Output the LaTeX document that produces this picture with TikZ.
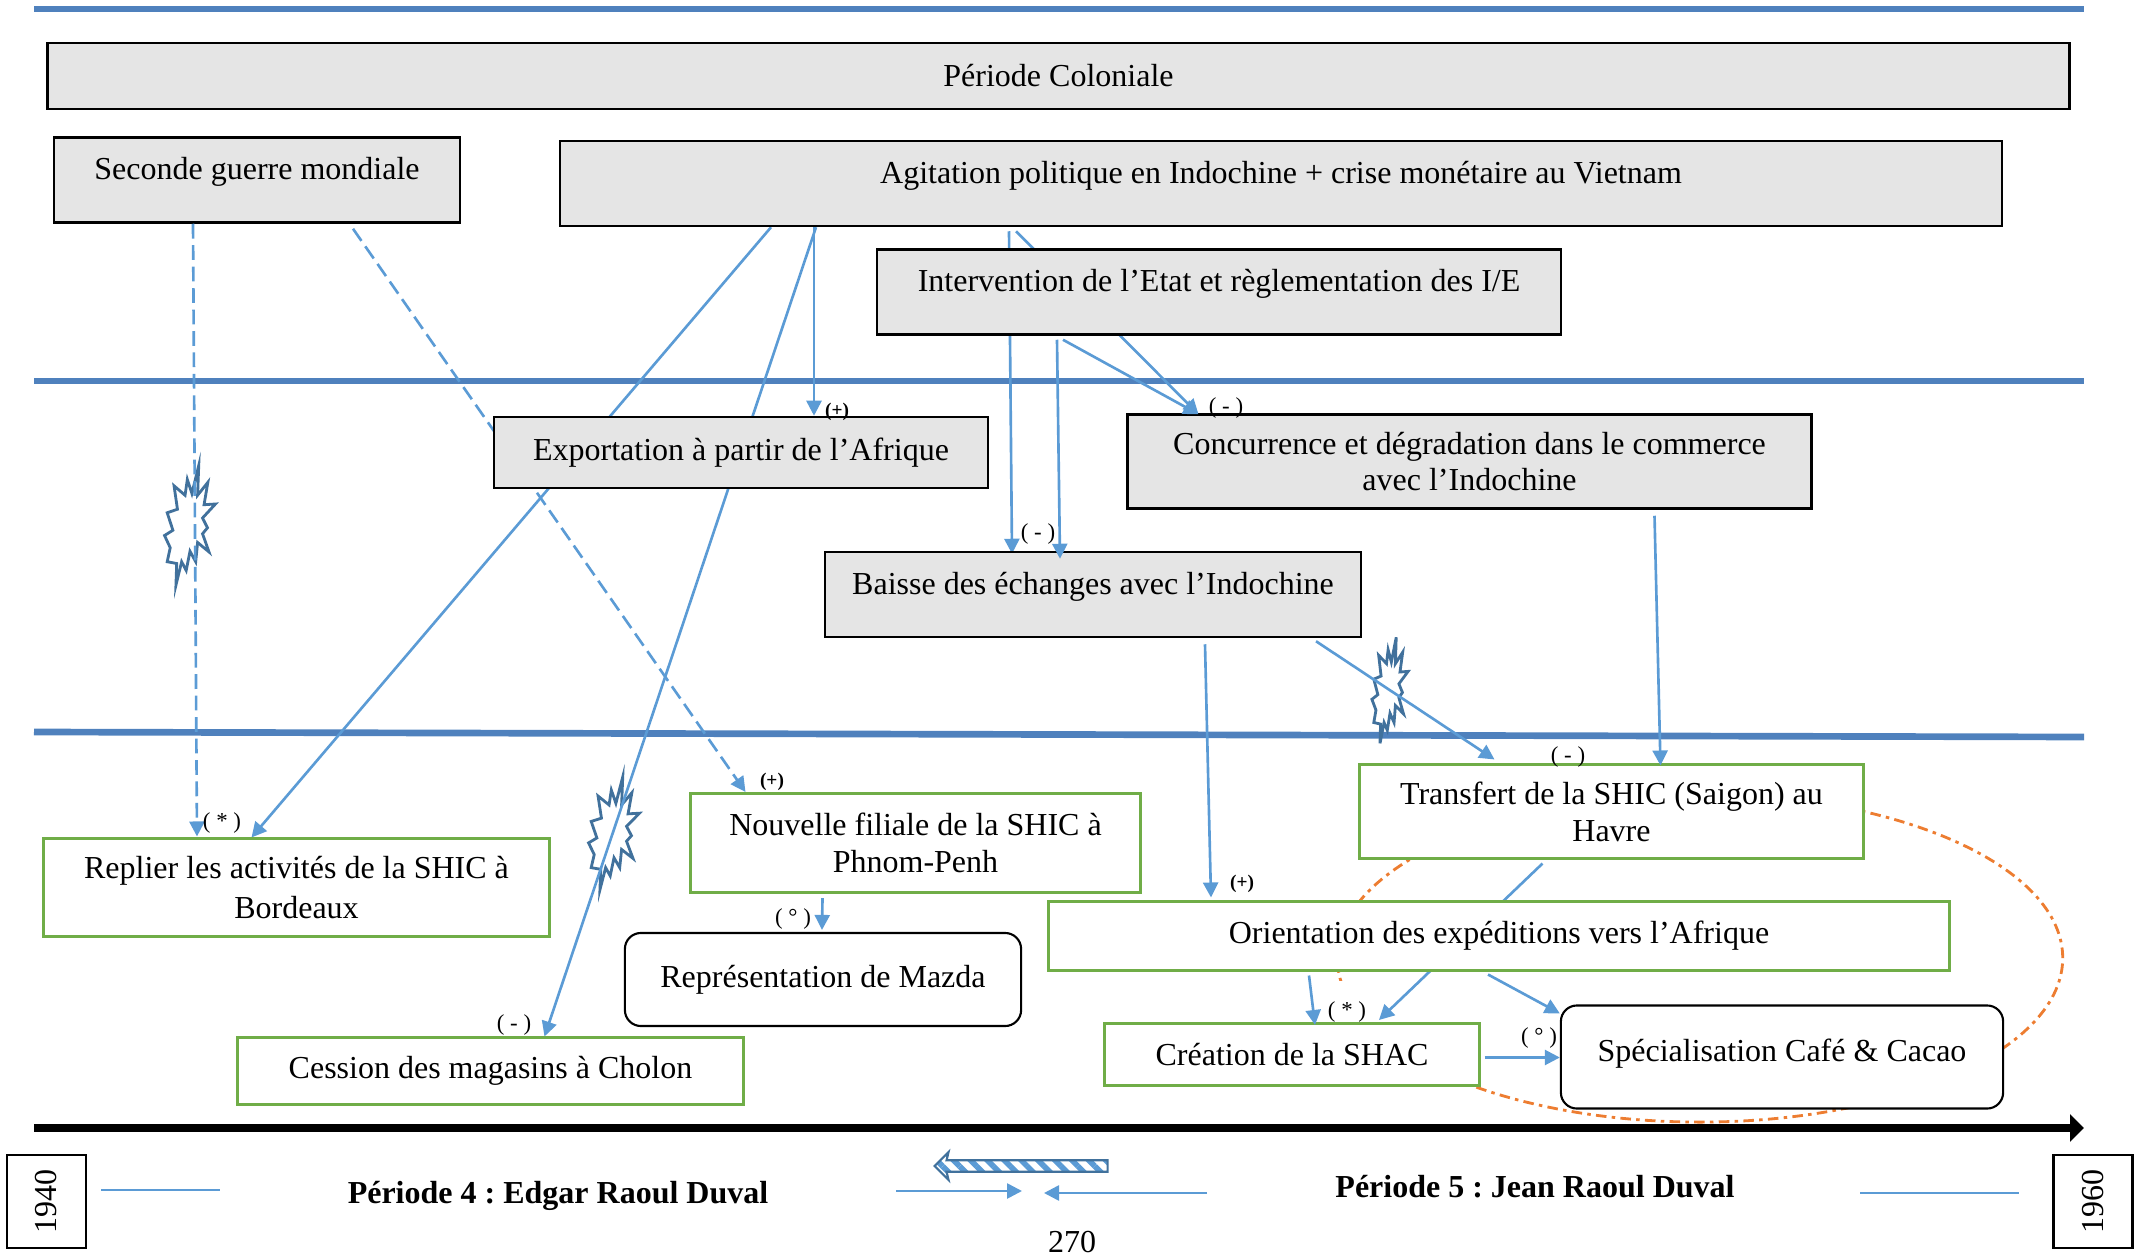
\documentclass[tikz,border=0pt]{standalone}
\usepackage{fontspec}
\setmainfont{Liberation Serif}
\frenchspacing
\usetikzlibrary{arrows.meta,calc,patterns.meta,shapes.arrows,shapes.geometric}

\definecolor{bleu}{HTML}{5B9BD5}
\definecolor{bleufort}{HTML}{4F81BD}
\definecolor{bleuclair}{HTML}{41719C}
\definecolor{vert}{HTML}{70AD47}
\definecolor{gris}{HTML}{E5E5E5}
\definecolor{orange}{HTML}{ED7D31}

\pgfdeclarelayer{fond}
\pgfsetlayers{fond,main}

\tikzset{
  boite/.style={inner sep=0pt,align=center,font=\fontsize{9.1}{10.5}\selectfont},
  grise/.style={boite,draw=black,line width=.7pt,fill=gris},
  verte/.style={boite,draw=vert,line width=.85pt,fill=white},
  ronde/.style={boite,draw=black,line width=.6pt,fill=white,rounded corners=.16cm},
  annee/.style={boite,draw=black,line width=.7pt,rotate=90,minimum width=.93cm,minimum height=.79cm},
  haut/.style={text depth=6.5pt},
  signe/.style={inner sep=0pt,font=\fontsize{6.5}{7}\selectfont},
  lien/.style={draw=bleu,line width=.75pt,-{Triangle[length=.15cm,width=.15cm]}},
  tiret/.style={lien,dash pattern=on 4.2pt off 1.9pt},
  barre/.style={draw=bleufort,line width=1.9pt},
  eclat/.pic={
    \draw[bleuclair,line width=.8pt] (23,-170) -- (20,-85) -- (47,-122) -- (37,-58) -- (67,-60) -- (33,-20)
      -- (46,8) -- (33,25) -- (50,77) -- (20,50) -- (15,105) -- (0,75) -- (-10,130) -- (-22,105)
      -- (-37,172) -- (-35,110) -- (-60,105) -- (-52,65) -- (-67,30) -- (-45,15) -- (-60,-35)
      -- (-33,-45) -- (-42,-112) -- (-13,-85) -- (-7,-130) -- (5,-90) -- cycle;
  }
}

\begin{document}
\begin{tikzpicture}[x=.01cm,y=-.01cm]
  \useasboundingbox (0,0) rectangle (2145,1255);

  \node[grise,minimum width=20.21cm,minimum height=.66cm] (coloniale) at (1058.5,76) {Période Coloniale};
  \node[grise,haut,minimum width=4.06cm,minimum height=.85cm] (guerre) at (257,180) {Seconde guerre mondiale};
  \node[grise,haut,minimum width=14.41cm,minimum height=.85cm] (agitation) at (1281,183.5) {Agitation politique en Indochine + crise monétaire au Vietnam};
  \node[grise,haut,minimum width=6.84cm,minimum height=.85cm] (etat) at (1219,292) {Intervention de l’Etat et règlementation des I/E};
  \node[grise,minimum width=4.94cm,minimum height=.71cm] (export) at (741,452.5) {Exportation à partir de l’Afrique};
  \node[grise,minimum width=6.84cm,minimum height=.94cm] (concur) at (1469.5,461.5) {Concurrence et dégradation dans le commerce\\avec l’Indochine};
  \node[grise,haut,minimum width=5.36cm,minimum height=.85cm] (baisse) at (1093,594.5) {Baisse des échanges avec l’Indochine};

  \node[verte,minimum width=5.03cm,minimum height=.93cm] (transfert) at (1611.5,811.5) {Transfert de la SHIC (Saigon) au\\Havre};
  \node[verte,minimum width=4.49cm,minimum height=.99cm] (filiale) at (915.5,843) {Nouvelle filiale de la SHIC à\\Phnom-Penh};
  \node[verte,minimum width=5.05cm,minimum height=.97cm] (replier) at (296.5,887.5) {Replier les activités de la SHIC à\\[.7pt]Bordeaux};
  \node[verte,minimum width=5.05cm,minimum height=.66cm] (cession) at (490.5,1071) {Cession des magasins à Cholon};
  \node[verte,minimum width=9.01cm,minimum height=.68cm] (orient) at (1499,936) {Orientation des expéditions vers l’Afrique};
  \node[verte,minimum width=3.74cm,minimum height=.62cm] (shac) at (1292,1054.5) {Création de la SHAC};

  \node[ronde,minimum width=3.96cm,minimum height=.93cm] (mazda) at (823,979.5) {Représentation de Mazda};
  \node[ronde,text depth=3.8pt,minimum width=4.42cm,minimum height=1.03cm] (cafe) at (1782,1057) {Spécialisation Café \& Cacao};

  \node[annee] (debut) at (46.5,1201.5) {1940};
  \node[annee] (fin) at (2093,1201.5) {1960};

  \begin{pgfonlayer}{fond}
    \coordinate (g1) at (34,9);
    \coordinate (d1) at (2084,9);
    \coordinate (g2) at (34,381);
    \coordinate (d2) at (2084,381);
    \coordinate (g3) at (34,732);
    \coordinate (d3) at (2084,737);
    \draw[barre] (g1) -- (d1);
    \draw[barre] (g2) -- (d2);
    \draw[barre] (g3) -- (d3);

    \node[ellipse,draw=orange,line width=.8pt,dash pattern=on 3pt off 1.5pt on 1pt off 1.5pt,inner sep=0pt,minimum width=7.25cm,minimum height=3.28cm] (boucle) at (1700,958) {};
    \node[signe,text height=9.5pt,fill=white,minimum width=.52cm,minimum height=.44cm] (s9) at (1347,1003) {( * )};

    \pic[xscale=.38,yscale=.35] (e1) at (190,525) {eclat};
    \pic[xscale=.38,yscale=.33] (e2) at (614,833) {eclat};
    \pic[xscale=.27,yscale=.31] (e3) at (1390,690) {eclat};

    \draw[tiret] ($(guerre.south)+(96,5)$) -- ($(filiale.north)+(-170,0)$);
    \draw[lien] ($(agitation.south)+(-510,0)$) -- ($(replier.north)+(-45,0)$);
    \draw[lien] ($(agitation.south)+(-465,0)$) -- ($(cession.north)+(54,0)$);
    \draw[lien] ($(agitation.south)+(-272,4)$) -- ($(baisse.north)+(-81,3)$);
    \draw[lien] ($(agitation.south)+(-265,4)$) -- ($(concur.north)+(-271,1)$);
    \draw[lien] ($(transfert.south)+(-69,4)$) -- ($(shac.north)+(87,-2)$);
  \end{pgfonlayer}

  \draw[tiret] ($(guerre.south)+(-64,0)$) -- ($(replier.north)+(-99.5,-1)$);
  \draw[lien] ($(agitation.south)+(-467,0)$) -- ($(export.north)+(73,0)$);
  \draw[lien] ($(etat.south)+(-162,4)$) -- ($(baisse.north)+(-33,8)$);
  \draw[lien] ($(etat.south)+(-156,4)$) -- ($(concur.north)+(-271,1)$);
  \draw[lien] ($(concur.south)+(185,6)$) -- ($(transfert.north)+(49,2)$);
  \draw[lien] ($(baisse.south)+(223,3)$) -- ($(transfert.north)+(-117,-4)$);
  \draw[lien] ($(baisse.south)+(112,6)$) -- ($(orient.north)+(-288,-3)$);
  \draw[lien] ($(orient.south)+(-190,4)$) -- ($(shac.north)+(23,3)$);
  \draw[lien] ($(orient.south)+(-11,3)$) -- ($(cafe.north west)+(0,9)$);
  \draw[lien] ($(shac.east)+(4,3)$) -- ($(cafe.west)+(0,0.5)$);
  \draw[lien] ($(filiale.south)+(-93,4)$) -- ($(mazda.north)+(-1,-2)$);

  \node[signe,font=\fontsize{5.5}{6}\bfseries\selectfont] (s1) at (837,412) {(+)};
  \node[signe] (s2) at (1226,408) {( - )};
  \node[signe] (s3) at (1038,534) {( - )};
  \node[signe] (s4) at (222,823) {( * )};
  \node[signe,font=\fontsize{5.5}{6}\bfseries\selectfont] (s5) at (772,782) {(+)};
  \node[signe] (s6) at (793,919) {( ° )};
  \node[signe] (s7) at (514,1025) {( - )};
  \node[signe,font=\fontsize{5.5}{6}\bfseries\selectfont] (s8) at (1242,884) {(+)};
  \node[signe] (s10) at (1568,757) {( - )};
  \node[signe] (s11) at (1539,1038) {( ° )};

  \coordinate (ga) at (34,1128);
  \coordinate (da) at (2084,1128);
  \draw[line width=2.5pt,-{Triangle[length=.14cm,width=.27cm]}] (ga) -- (da);

  \node[signe,font=\fontsize{9.1}{11}\bfseries\selectfont] (per4) at (558,1196) {Période 4 : Edgar Raoul Duval};
  \node[signe,font=\fontsize{9.1}{11}\bfseries\selectfont] (per5) at (1535,1187) {Période 5 : Jean Raoul Duval};
  \node[signe,font=\fontsize{9.1}{11}\selectfont] (page) at (1072,1242) {270};

  \node[single arrow,shape border rotate=180,draw=bleuclair,line width=.6pt,inner sep=0pt,minimum width=.28cm,minimum height=1.73cm,single arrow head extend=.04cm,single arrow head indent=.02cm,pattern={Lines[angle=-45,distance=3.4pt,line width=1.6pt]},pattern color=bleu] (hachure) at (1024,1166) {};

  \coordinate (l1) at (101,1190);
  \coordinate (l2) at (220,1190);
  \coordinate (l3) at (1860,1193);
  \coordinate (l4) at (2019,1193);
  \coordinate (f1) at (896,1191);
  \coordinate (f2) at (1022,1191);
  \coordinate (f3) at (1207,1193);
  \coordinate (f4) at (1044,1193);
  \draw[bleu,line width=.75pt] (l1) -- (l2);
  \draw[bleu,line width=.75pt] (l3) -- (l4);
  \draw[lien] (f1) -- (f2);
  \draw[lien] (f3) -- (f4);

\end{tikzpicture}
\end{document}
